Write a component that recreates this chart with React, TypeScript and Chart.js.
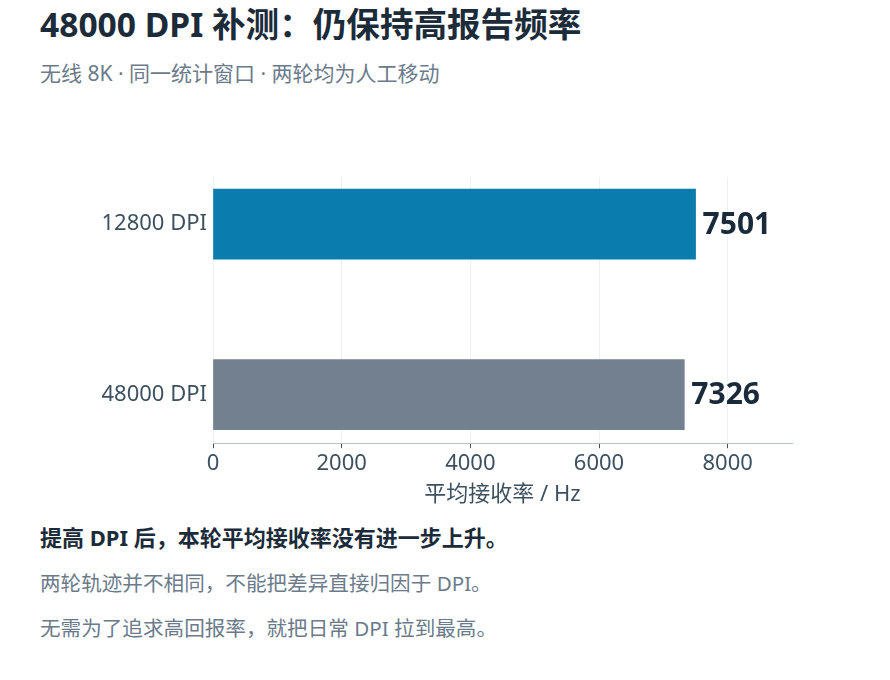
import React, { useEffect, useRef } from "react";
import { Chart, registerables } from "chart.js";

Chart.register(...registerables);

const categories = ["12800 DPI", "48000 DPI"];
const values = [7501, 7326];
const barColors = ["#0a7cad", "#72808f"];
const xTicks = [0, 2000, 4000, 6000, 8000];

const FONT = '"Noto Sans", "Noto Sans CJK SC", sans-serif';

const valueLabelPlugin = {
  id: "valueLabels",
  afterDatasetsDraw(chart: any) {
    const ctx = chart.ctx;
    const meta = chart.getDatasetMeta(0);
    ctx.save();
    ctx.font = `bold 30px ${FONT}`;
    ctx.fillStyle = "#1b2a3a";
    ctx.textAlign = "left";
    ctx.textBaseline = "middle";
    meta.data.forEach((bar: any, i: number) => {
      ctx.fillText(String(values[i]), bar.x + 7, bar.y + 1);
    });
    ctx.restore();
  },
};

export default function App() {
  const ref = useRef<HTMLCanvasElement | null>(null);

  useEffect(() => {
    if (!ref.current) return;
    const chart = new Chart(ref.current, {
      type: "bar",
      data: {
        datasets: [
          {
            data: values.map((v, i) => ({ x: v, y: i })),
            backgroundColor: barColors,
            barThickness: 70,
            borderWidth: 0,
          },
        ],
      },
      options: {
        indexAxis: "y",
        animation: false,
        responsive: false,
        devicePixelRatio: 1,
        layout: { padding: { top: 27, left: 0, right: 98, bottom: 0 } },
        plugins: { legend: { display: false }, tooltip: { enabled: false } },
        scales: {
          x: {
            type: "linear",
            min: 0,
            max: 9000,
            afterBuildTicks: (scale: any) => {
              scale.ticks = xTicks.map((v) => ({ value: v }));
            },
            grid: {
              color: "#eef1f4",
              lineWidth: 1,
              tickColor: "#3d5060",
              tickLength: 5,
              drawTicks: true,
            },
            border: { display: true, color: "#b4c3d2", width: 1 },
            ticks: {
              color: "#3d5060",
              font: { family: FONT, size: 22 },
              padding: 2,
              maxRotation: 0,
              callback: (v: any) => String(v),
            },
            title: {
              display: true,
              text: "平均接收率 / Hz",
              color: "#3d5060",
              font: { family: FONT, size: 22 },
              padding: { top: 3, bottom: 0 },
            },
          },
          y: {
            type: "linear",
            reverse: true,
            offset: false,
            min: -0.276,
            max: 1.285,
            afterBuildTicks: (scale: any) => {
              scale.ticks = categories.map((_, i) => ({ value: i }));
            },
            afterFit: (scale: any) => {
              scale.width = 213;
            },
            grid: { display: false, drawTicks: false, tickLength: 0, offset: false },
            border: { display: false },
            ticks: {
              color: "#3d5060",
              font: { family: FONT, size: 22 },
              padding: 6,
              callback: (v: any) => categories[Math.round(Number(v))] ?? "",
            },
          },
        },
      },
      plugins: [valueLabelPlugin],
    } as any);
    return () => chart.destroy();
  }, []);

  return (
    <div
      style={{
        position: "fixed",
        left: 0,
        top: 0,
        width: 890,
        height: 680,
        background: "#ffffff",
        fontFamily: FONT,
        overflow: "hidden",
      }}
    >
      <div
        style={{
          position: "absolute",
          left: 40,
          top: 3,
          fontSize: 33.6,
          fontWeight: 700,
          color: "#1c2b3a",
          lineHeight: "42px",
          whiteSpace: "nowrap",
        }}
      >
        48000 DPI 补测：仍保持高报告频率
      </div>
      <div
        style={{
          position: "absolute",
          left: 40,
          top: 59,
          fontSize: 21,
          color: "#6b7b8b",
          lineHeight: "28px",
          whiteSpace: "nowrap",
        }}
      >
        无线 8K · 同一统计窗口 · 两轮均为人工移动
      </div>
      <canvas
        ref={ref}
        width={890}
        height={358}
        style={{ position: "absolute", left: 0, top: 150, width: 890, height: 358 }}
      />
      <div
        style={{
          position: "absolute",
          left: 40,
          top: 522,
          fontSize: 22,
          fontWeight: 700,
          color: "#1c2b3a",
          lineHeight: "30px",
          whiteSpace: "nowrap",
        }}
      >
        提高 DPI 后，本轮平均接收率没有进一步上升。
      </div>
      <div
        style={{
          position: "absolute",
          left: 40,
          top: 568,
          fontSize: 20.6,
          color: "#6b7b8b",
          lineHeight: "30px",
          whiteSpace: "nowrap",
        }}
      >
        两轮轨迹并不相同，不能把差异直接归因于 DPI。
      </div>
      <div
        style={{
          position: "absolute",
          left: 40,
          top: 613,
          fontSize: 20.6,
          color: "#6b7b8b",
          lineHeight: "30px",
          whiteSpace: "nowrap",
        }}
      >
        无需为了追求高回报率，就把日常 DPI 拉到最高。
      </div>
    </div>
  );
}
